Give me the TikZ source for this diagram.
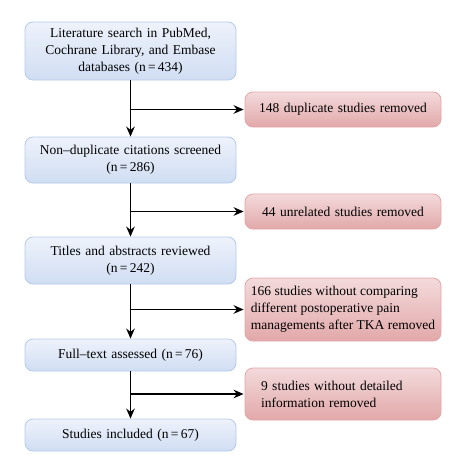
\documentclass[tikz,border=0pt]{standalone}
\usepackage{fontspec}
\setmainfont{Liberation Serif}
\usetikzlibrary{arrows.meta,calc}
\definecolor{bluetop}{HTML}{EEF2FB}
\definecolor{bluebot}{HTML}{D0DDF2}
\definecolor{blueborder}{HTML}{B3CBEC}
\definecolor{redtop}{HTML}{F3DADB}
\definecolor{redbot}{HTML}{E2A8A9}
\definecolor{redborder}{HTML}{E3A6A8}
\begin{document}
\begin{tikzpicture}[x=1pt,y=-1pt,
  txt/.style={font=\rmfamily\fontsize{13.5}{17}\selectfont},
  bluebox/.style={txt, draw=blueborder, line width=0.8pt, rounded corners=8pt,
    top color=bluetop, bottom color=bluebot, minimum width=211pt,
    text width=200pt, align=center, inner xsep=5.5pt, inner ysep=0pt},
  redbox/.style={txt, draw=redborder, line width=0.8pt, rounded corners=8pt,
    top color=redtop, bottom color=redbot, minimum width=196pt,
    inner ysep=0pt},
  arr/.style={-{Stealth[length=10pt,width=8.5pt]}, line width=1.8pt}
]
\useasboundingbox (0,0) rectangle (448,460);
% blue column
\node[bluebox, minimum height=58pt] (b1) at (130.5,51) {Literature search in PubMed,\\Cochrane Library, and Embase\\databases (n\,=\,434)};
\node[bluebox, minimum height=46pt] (b2) at (130.5,160) {Non–duplicate citations screened\\(n\,=\,286)};
\node[bluebox, minimum height=47pt] (b3) at (130.5,260.5) {Titles and abstracts reviewed\\(n\,=\,242)};
\node[bluebox, minimum height=32pt] (b4) at (130.5,355) {Full–text assessed (n\,=\,76)};
\node[bluebox, minimum height=32pt] (b5) at (130.5,435) {Studies included (n\,=\,67)};
% red column
\node[redbox, minimum height=35pt, text width=185pt, inner xsep=5.5pt, align=center] (r1) at (343,109.5) {148 duplicate studies removed};
\node[redbox, minimum height=35pt, text width=185pt, inner xsep=5.5pt, align=center] (r2) at (343,211.5) {44 unrelated studies removed};
\node[redbox, minimum height=63pt, inner xsep=4pt, align=left] (r3) at (343,309.5) {166 studies without comparing\\different postoperative pain\\managements after TKA removed};
\node[redbox, minimum height=52pt, text width=174pt, inner xsep=11pt, align=left] (r4) at (343,394) {\hspace*{5pt}9 studies without detailed\\\hspace*{5pt}information removed};
% vertical arrows
\draw[arr] (b1) -- (b2);
\draw[arr] (b2) -- (b3);
\draw[arr] (b3) -- (b4);
\draw[arr] (b4) -- (b5);
% branches
\coordinate (j1) at (b1.south |- r1.west);
\coordinate (j2) at (b2.south |- r2.west);
\coordinate (j3) at (b3.south |- r3.west);
\coordinate (j4) at (b4.south |- r4.west);
\draw[arr] (j1) -- ([xshift=-1pt]r1.west);
\draw[arr] (j2) -- ([xshift=-1pt]r2.west);
\draw[arr] (j3) -- ([xshift=-1pt]r3.west);
\draw[arr] (j4) -- ([xshift=-1pt]r4.west);
\end{tikzpicture}
\end{document}
